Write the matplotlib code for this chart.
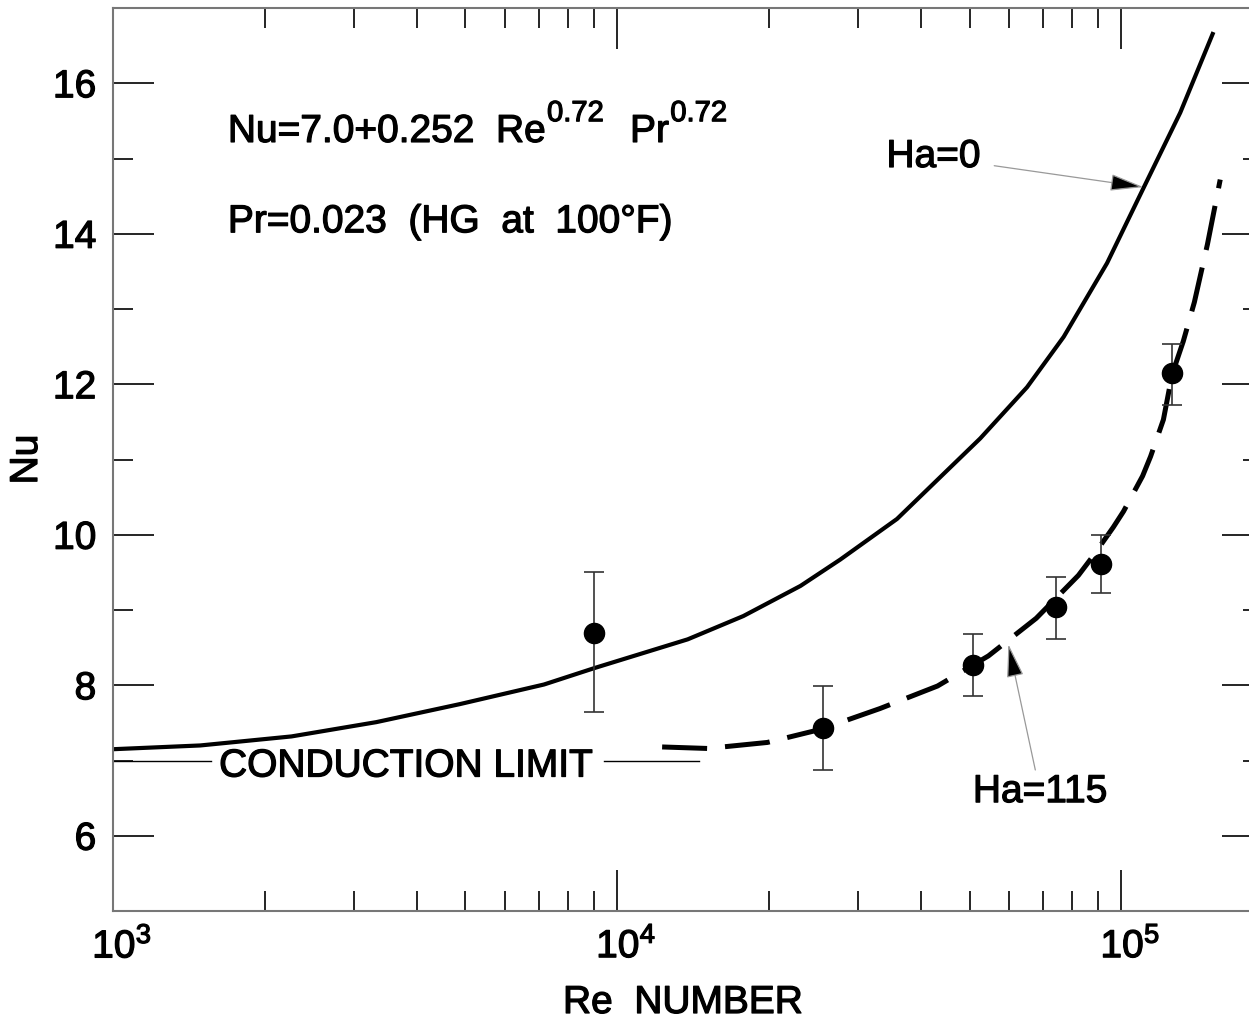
import matplotlib
matplotlib.use('Agg')
import matplotlib.pyplot as plt
import matplotlib.patheffects as pe
from matplotlib.ticker import MultipleLocator, LogLocator, NullFormatter, FixedLocator
from matplotlib.transforms import ScaledTranslation

plt.rcParams['font.family'] = ['Liberation Sans', 'DejaVu Sans']
plt.rcParams['mathtext.default'] = 'regular'

# Ha=0 curve (solid)
re_ha0 = [1000, 1490, 2260, 3330, 4880, 7160, 9030, 13800, 17800, 23100, 27700,
          35900, 52500, 65000, 76860, 93700, 110700, 130900, 152300]
nu_ha0 = [7.15, 7.20, 7.32, 7.51, 7.75, 8.01, 8.23, 8.61, 8.92, 9.32, 9.67,
          10.21, 11.28, 11.96, 12.63, 13.61, 14.61, 15.61, 16.68]

# Ha=115 curve (dashed)
re_ha115 = [12280, 15100, 19860, 24500, 28100, 33200, 43200, 54500, 67800, 82200,
            87500, 96400, 101000, 110200, 114300, 121200, 126100, 132700, 139600,
            148200, 157100]
nu_ha115 = [7.18, 7.16, 7.24, 7.39, 7.52, 7.69, 7.99, 8.39, 8.89, 9.46,
            9.70, 10.10, 10.31, 10.78, 11.04, 11.53, 12.13, 12.57, 13.09,
            13.86, 14.72]

# measured points with error bars
re_pts = [9000, 25600, 50900, 74300, 91300, 126000]
nu_pts = [8.69, 7.43, 8.27, 9.04, 9.61, 12.15]
err_lo = [1.04, 0.55, 0.41, 0.42, 0.39, 0.42]
err_hi = [0.82, 0.56, 0.41, 0.40, 0.39, 0.39]

nu_cond = 7.0
fs = 28
heavy = [pe.withStroke(linewidth=0.9, foreground='black')]  # bolder strokes

fig = plt.figure(figsize=(12.49, 10.22), dpi=100)
ax = fig.add_axes([113 / 1249, 111 / 1022, 1150 / 1249, 903 / 1022])

ax.plot(re_ha0, nu_ha0, color='black', lw=3.0, solid_capstyle='butt')
ax.plot(re_ha115, nu_ha115, color='black', lw=3.6, dashes=(9, 3.6),
        dash_capstyle='butt')
ax.errorbar(re_pts, nu_pts, yerr=[err_lo, err_hi], fmt='o', color='black',
            ms=14.5, ecolor='#333333', elinewidth=1.2, capsize=7.5, capthick=1.2)

# conduction limit
ax.plot([1000, 1564], [nu_cond, nu_cond], color='black', lw=1.0)
ax.plot([9420, 14500], [nu_cond, nu_cond], color='black', lw=1.0)
ax.text(3810, 6.92, 'CONDUCTION LIMIT', fontsize=fs, ha='center', va='center',
        path_effects=heavy)

# correlation text, superscripts a bit larger than mathtext would make them
t1 = ax.text(1690, 15.22, 'Nu=7.0+0.252  Re', fontsize=fs, ha='left', va='baseline',
             path_effects=heavy)
t2 = ax.annotate('0.72', xy=(1, 0), xycoords=t1, xytext=(1, 16.4),
                 textcoords='offset points', fontsize=21, ha='left', va='bottom',
                 path_effects=heavy)
t3 = ax.annotate('Pr', xy=(1, 0), xycoords=(t2, t1), xytext=(19, 0),
                 textcoords='offset points', fontsize=fs, ha='left', va='bottom',
                 path_effects=heavy)
ax.annotate('0.72', xy=(1, 0), xycoords=t3, xytext=(1, 16.4),
            textcoords='offset points', fontsize=21, ha='left', va='bottom',
            path_effects=heavy)
ax.text(1690, 14.02, 'Pr=0.023  (HG  at  100°F)', fontsize=fs,
        ha='left', va='baseline', path_effects=heavy)

arrow = dict(arrowstyle='-|>,head_length=0.75,head_width=0.19',
             facecolor='black', edgecolor='#999999', lw=0.9, shrinkB=0)
ax.annotate('Ha=0', xy=(110600, 14.62), xytext=(42400, 15.02), fontsize=fs,
            ha='center', va='center', arrowprops=dict(arrow, shrinkA=8),
            path_effects=heavy)
ax.annotate('Ha=115', xy=(59700, 8.545), xytext=(69000, 6.58), fontsize=fs,
            ha='center', va='center', arrowprops=dict(arrow, shrinkA=1),
            path_effects=heavy)

ax.set_xscale('log')
ax.set_xlim(1e3, 1.91e5)
ax.set_ylim(5, 17)
ax.yaxis.set_major_locator(MultipleLocator(2))
ax.yaxis.set_minor_locator(MultipleLocator(1))
ax.xaxis.set_major_locator(FixedLocator([1e3, 1e4, 1e5]))
ax.xaxis.set_minor_locator(LogLocator(base=10, subs=range(2, 10)))
ax.xaxis.set_minor_formatter(NullFormatter())

ax.tick_params(which='both', direction='in', top=True, right=True, width=1.2,
               color='black', labelsize=fs)
ax.tick_params(which='major', length=29.5, pad=12)
ax.tick_params(which='minor', length=14.5)
for s in ax.spines.values():
    s.set_color('#777777')
    s.set_linewidth(1.5)

# decade labels sit a little right of their ticks in the original
shift = ScaledTranslation(0.09, 0, fig.dpi_scale_trans)
for tk in ax.xaxis.get_major_ticks():
    tk.label1.set_transform(tk.label1.get_transform() + shift)
    tk.label1.set_path_effects(heavy)
for tk in ax.yaxis.get_major_ticks():
    tk.label1.set_path_effects(heavy)

ax.set_xlabel('Re  NUMBER', fontsize=fs, path_effects=heavy)
ax.set_ylabel('Nu', fontsize=fs, path_effects=heavy)
ax.xaxis.set_label_coords(570 / 1150, -74 / 903)
ax.yaxis.set_label_coords(-68 / 1150, 0.5)

fig.savefig('out.png', dpi=100)
